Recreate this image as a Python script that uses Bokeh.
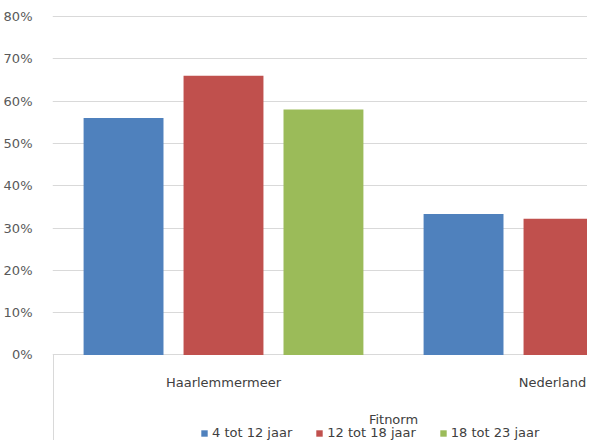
from bokeh.plotting import figure
from bokeh.models import Range1d, FixedTicker, NumeralTickFormatter, Legend, LegendItem, ColumnDataSource
from bokeh.core.properties import value
from bokeh.embed import file_html
from bokeh.resources import INLINE

# ---- data ----
categories = ["Haarlemmermeer", "Nederland"]
series_names = ["4 tot 12 jaar", "12 tot 18 jaar", "18 tot 23 jaar"]
values_4_12 = [0.56, 0.333]
values_12_18 = [0.66, 0.322]
values_18_23 = [0.58, float("nan")]  # Nederland value falls outside the visible area
y_ticks = [0.0, 0.1, 0.2, 0.3, 0.4, 0.5, 0.6, 0.7, 0.8]
legend_title = "Fitnorm"

colors = ["#4F81BD", "#C0504D", "#9BBB59"]
FONT = "DejaVu Sans"
TXT = "#404040"

cat_x = [i + 0.5 for i in range(len(categories))]
offsets = [-0.294, 0.0, 0.294]
bar_w = 0.235

y_min = -0.2021
p = figure(width=587, height=440, output_backend="svg", toolbar_location=None,
           x_range=Range1d(-1 / 340, 534 / 340), y_range=Range1d(y_min, 0.8024),
           x_axis_location=None, min_border_left=52, min_border_right=0,
           min_border_top=15, min_border_bottom=0)
p.outline_line_color = None
p.background_fill_color = "white"
p.border_fill_color = "white"

p.xgrid.visible = False
p.ygrid.ticker = FixedTicker(ticks=y_ticks)
p.ygrid.grid_line_color = "#d9d9d9"
p.ygrid.grid_line_width = 1

ax = p.yaxis[0]
ax.ticker = FixedTicker(ticks=y_ticks)
ax.formatter = NumeralTickFormatter(format="0%")
ax.axis_line_color = None
ax.major_tick_line_color = None
ax.minor_tick_line_color = None
ax.major_label_standoff = 14
ax.major_label_text_font = FONT
ax.major_label_text_font_size = "13px"
ax.major_label_text_color = "#595959"

# category-axis box line on the left below zero
p.segment(x0=[0], y0=[y_min], x1=[0], y1=[0], line_color="#d9d9d9", line_width=1)

renderers = []
for name, vals, off, col in zip(series_names, [values_4_12, values_12_18, values_18_23], offsets, colors):
    src = ColumnDataSource(dict(x=[c + off for c in cat_x], top=vals))
    r = p.vbar(x="x", top="top", bottom=0, width=bar_w, source=src,
               fill_color=col, line_color=None)
    renderers.append((name, r))

# category labels
cat_src = ColumnDataSource(dict(x=cat_x, y=[-0.065] * len(cat_x), text=categories,
                                dx=[0, -11]))
p.text(x="x", y="y", text="text", x_offset="dx", source=cat_src, text_align="center",
       text_baseline="middle", text_font=value(FONT), text_font_size="13px", text_color=TXT)

# legend title
p.text(x=[1.0], y=[-0.1524], text=[legend_title], text_align="center", text_baseline="middle",
       text_font=value(FONT), text_font_size="13px", text_color=TXT)

legend = Legend(items=[LegendItem(label=n, renderers=[r]) for n, r in renderers],
                orientation="horizontal", location=(148, 0), padding=0, margin=0,
                spacing=23, glyph_width=8, glyph_height=8, label_standoff=4,
                label_height=12, label_text_font=FONT, label_text_font_size="13px",
                label_text_color=TXT, border_line_color=None, background_fill_alpha=0)
p.add_layout(legend)

open("out.html", "w").write(file_html(p, INLINE))
